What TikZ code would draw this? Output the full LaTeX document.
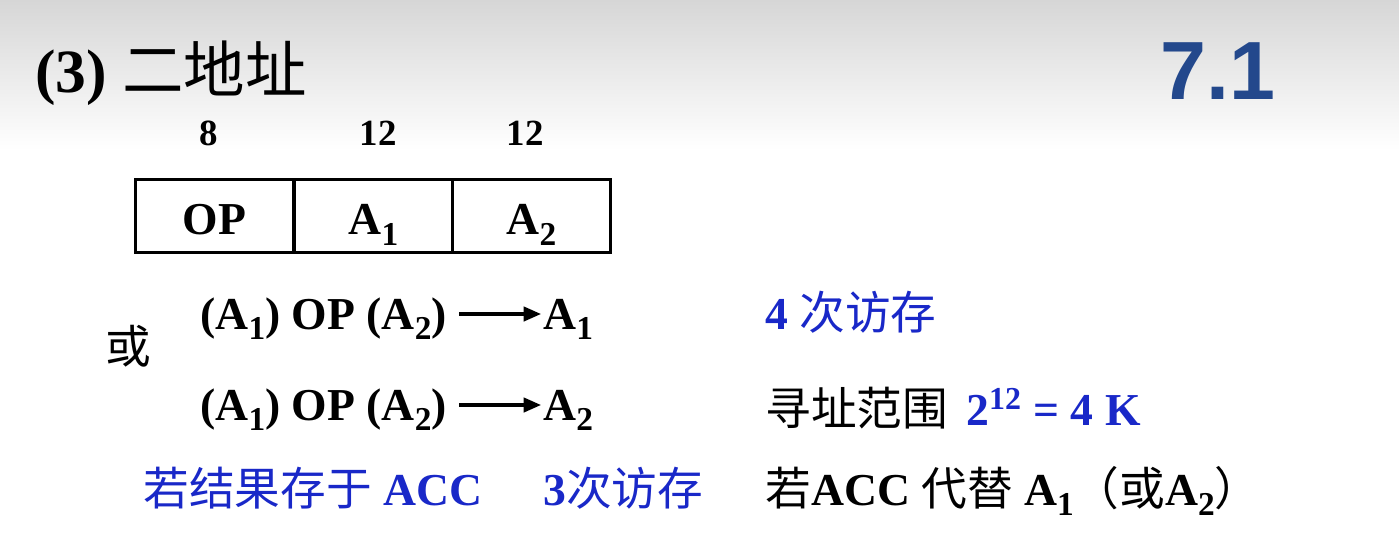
\documentclass[tikz,border=0pt]{standalone}
\usepackage{fontspec}
\setmainfont{Liberation Serif}
\newfontfamily\cjk{Noto Sans CJK SC}
\newfontfamily\slidefont{Liberation Sans}
\usetikzlibrary{arrows.meta}
\definecolor{memblue}{RGB}{25,40,200}
\definecolor{numblue}{RGB}{35,72,140}
\newcommand{\zh}[1]{{\cjk\mdseries #1}}
\newcommand{\bA}[1]{A\raisebox{-0.22em}{\fontsize{19}{20}\selectfont #1}}

\begin{document}
\begin{tikzpicture}[x=0.02cm,y=-0.02cm]
	\tikzstyle{field} = [draw, rectangle, line width=1.7pt, minimum width=3.18cm, minimum height=1.44cm, font=\fontsize{26}{30}\selectfont\bfseries, text height=28pt, text depth=6.4pt]
	\tikzstyle{bits} = [inner sep=0pt, font=\fontsize{21}{25}\selectfont\bfseries]
	\tikzstyle{expr} = [inner sep=0pt, font=\fontsize{26}{30}\selectfont\bfseries, text height=23.5pt, text depth=6.3pt]
	\tikzstyle{note} = [expr, anchor=west]
	\tikzstyle{gives} = [-{Triangle[length=10pt,width=8pt]}, line width=2.2pt, shorten <=7pt, shorten >=1pt]
	\useasboundingbox (0,0) rectangle (1399,554);
	\shade[top color=black!16, bottom color=white] (0,0) rectangle (1399,150);

	\node [inner sep=0pt, anchor=base west, font=\fontsize{35}{40}\selectfont\bfseries] (title) at (35,92) {(3) \zh{二地址}};
	\node [inner sep=0pt, font=\slidefont\bfseries\fontsize{47}{52}\selectfont, text=numblue] (sec) at (1218,71) {7.1};

	\node [bits] (bitsop) at (209,133) {8};
	\node [bits] (bitsa) at (378,133) {12};
	\node [bits] (bitsb) at (525,133) {12};
	\node [field] (op) at (214.5,216) {OP};
	\node [field] (fa) at (373.5,216) {\bA{1}};
	\node [field] (fb) at (531.5,216) {\bA{2}};

	\node [expr] (alt) at (128,348) {\zh{或}};
	\node [note] (lhs1) at (200,314) {(\bA{1}) OP (\bA{2})};
	\node [note] (rhs1) at (543,314) {\bA{1}};
	\node [note] (lhs2) at (200,405) {(\bA{1}) OP (\bA{2})};
	\node [note] (rhs2) at (543,405) {\bA{2}};
	\draw[gives] (lhs1.east) -- (rhs1.west);
	\draw[gives] (lhs2.east) -- (rhs2.west);

	\node [note, text=memblue] (cost1) at (765,314) {4 \zh{次访存}};
	\node [note] (range) at (765,410) {\zh{寻址范围}\hspace{0.4em}\textcolor{memblue}{2\textsuperscript{12} = 4 K}};
	\node [note, text=memblue] (acc) at (143,490) {\zh{若结果存于} ACC};
	\node [note, text=memblue] (cost2) at (543,490) {3\zh{次访存}};
	\node [note] (subst) at (765,490) {\zh{若}ACC \zh{代替} \bA{1}\zh{（或}\bA{2}\zh{）}};
\end{tikzpicture}
\end{document}
